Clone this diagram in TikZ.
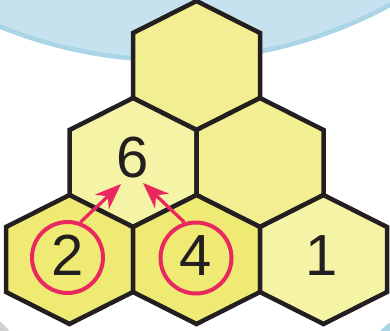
\documentclass[tikz,border=0pt]{standalone}
\usepackage{fontspec}
\setmainfont{Liberation Sans}
\usetikzlibrary{arrows.meta}
\definecolor{bgblue}{HTML}{C6E2EE}
\definecolor{rimblue}{HTML}{AAD5E7}
\definecolor{hexA}{HTML}{F2EF93}
\definecolor{hexB}{HTML}{F5F3A6}
\definecolor{hexC}{HTML}{EFEA73}
\definecolor{ringred}{HTML}{E8285E}
\definecolor{inkdark}{HTML}{231F20}
\tikzset{
  hexline/.style={draw=inkdark,line width=4.5pt,line join=miter},
  digit/.style={anchor=base,inner sep=0pt,text=inkdark,font=\fontsize{58}{60}\selectfont},
  ring/.style={circle,draw=ringred,line width=4pt,minimum size=71pt,inner sep=0pt},
  pointer/.style={draw=ringred,line width=3.3pt,-{Stealth[length=26pt,width=20pt,inset=8pt]}}
}
\newcommand{\hexcell}[3]{%
  \path[hexline,fill=#3] (#1,#2-64.5) -- (#1+63.5,#2-32.5) -- (#1+63.5,#2+32.5)
    -- (#1,#2+64.5) -- (#1-63.5,#2+32.5) -- (#1-63.5,#2-32.5) -- cycle;}
\begin{document}
\begin{tikzpicture}[x=1pt,y=-1pt]
\useasboundingbox (0,0) rectangle (390,331);
\begin{scope}
\clip (0,0) rectangle (390,331);
\fill[bgblue] (172,-398) circle (460);
\draw[rimblue,line width=4.5pt] (172,-398) circle (458);
\fill[black!18] (-50,380) circle (77);
\fill[rimblue] (430,380) circle (70);
\end{scope}
% hexagons
\hexcell{196.5}{65.5}{hexA}
\hexcell{133}{162.5}{hexB}
\hexcell{260}{162.5}{hexA}
\hexcell{69.5}{259.5}{hexC}
\hexcell{196.5}{259.5}{hexC}
\hexcell{323.5}{259.5}{hexB}
% digits
\node[digit] (n6) at (132.5,177) {6};
\node[digit] (n2) at (68,275) {2};
\node[digit] (n4) at (196,275) {4};
\node[digit] (n1) at (322,275) {1};
% rings
\node[ring] (c2) at (67.5,257.5) {};
\node[ring] (c4) at (196,258) {};
\coordinate (t2) at (121,184);
\coordinate (t4) at (143,183);
\draw[pointer] (c2.70) -- (t2);
\draw[pointer] (c4.108) -- (t4);
\end{tikzpicture}
\end{document}
